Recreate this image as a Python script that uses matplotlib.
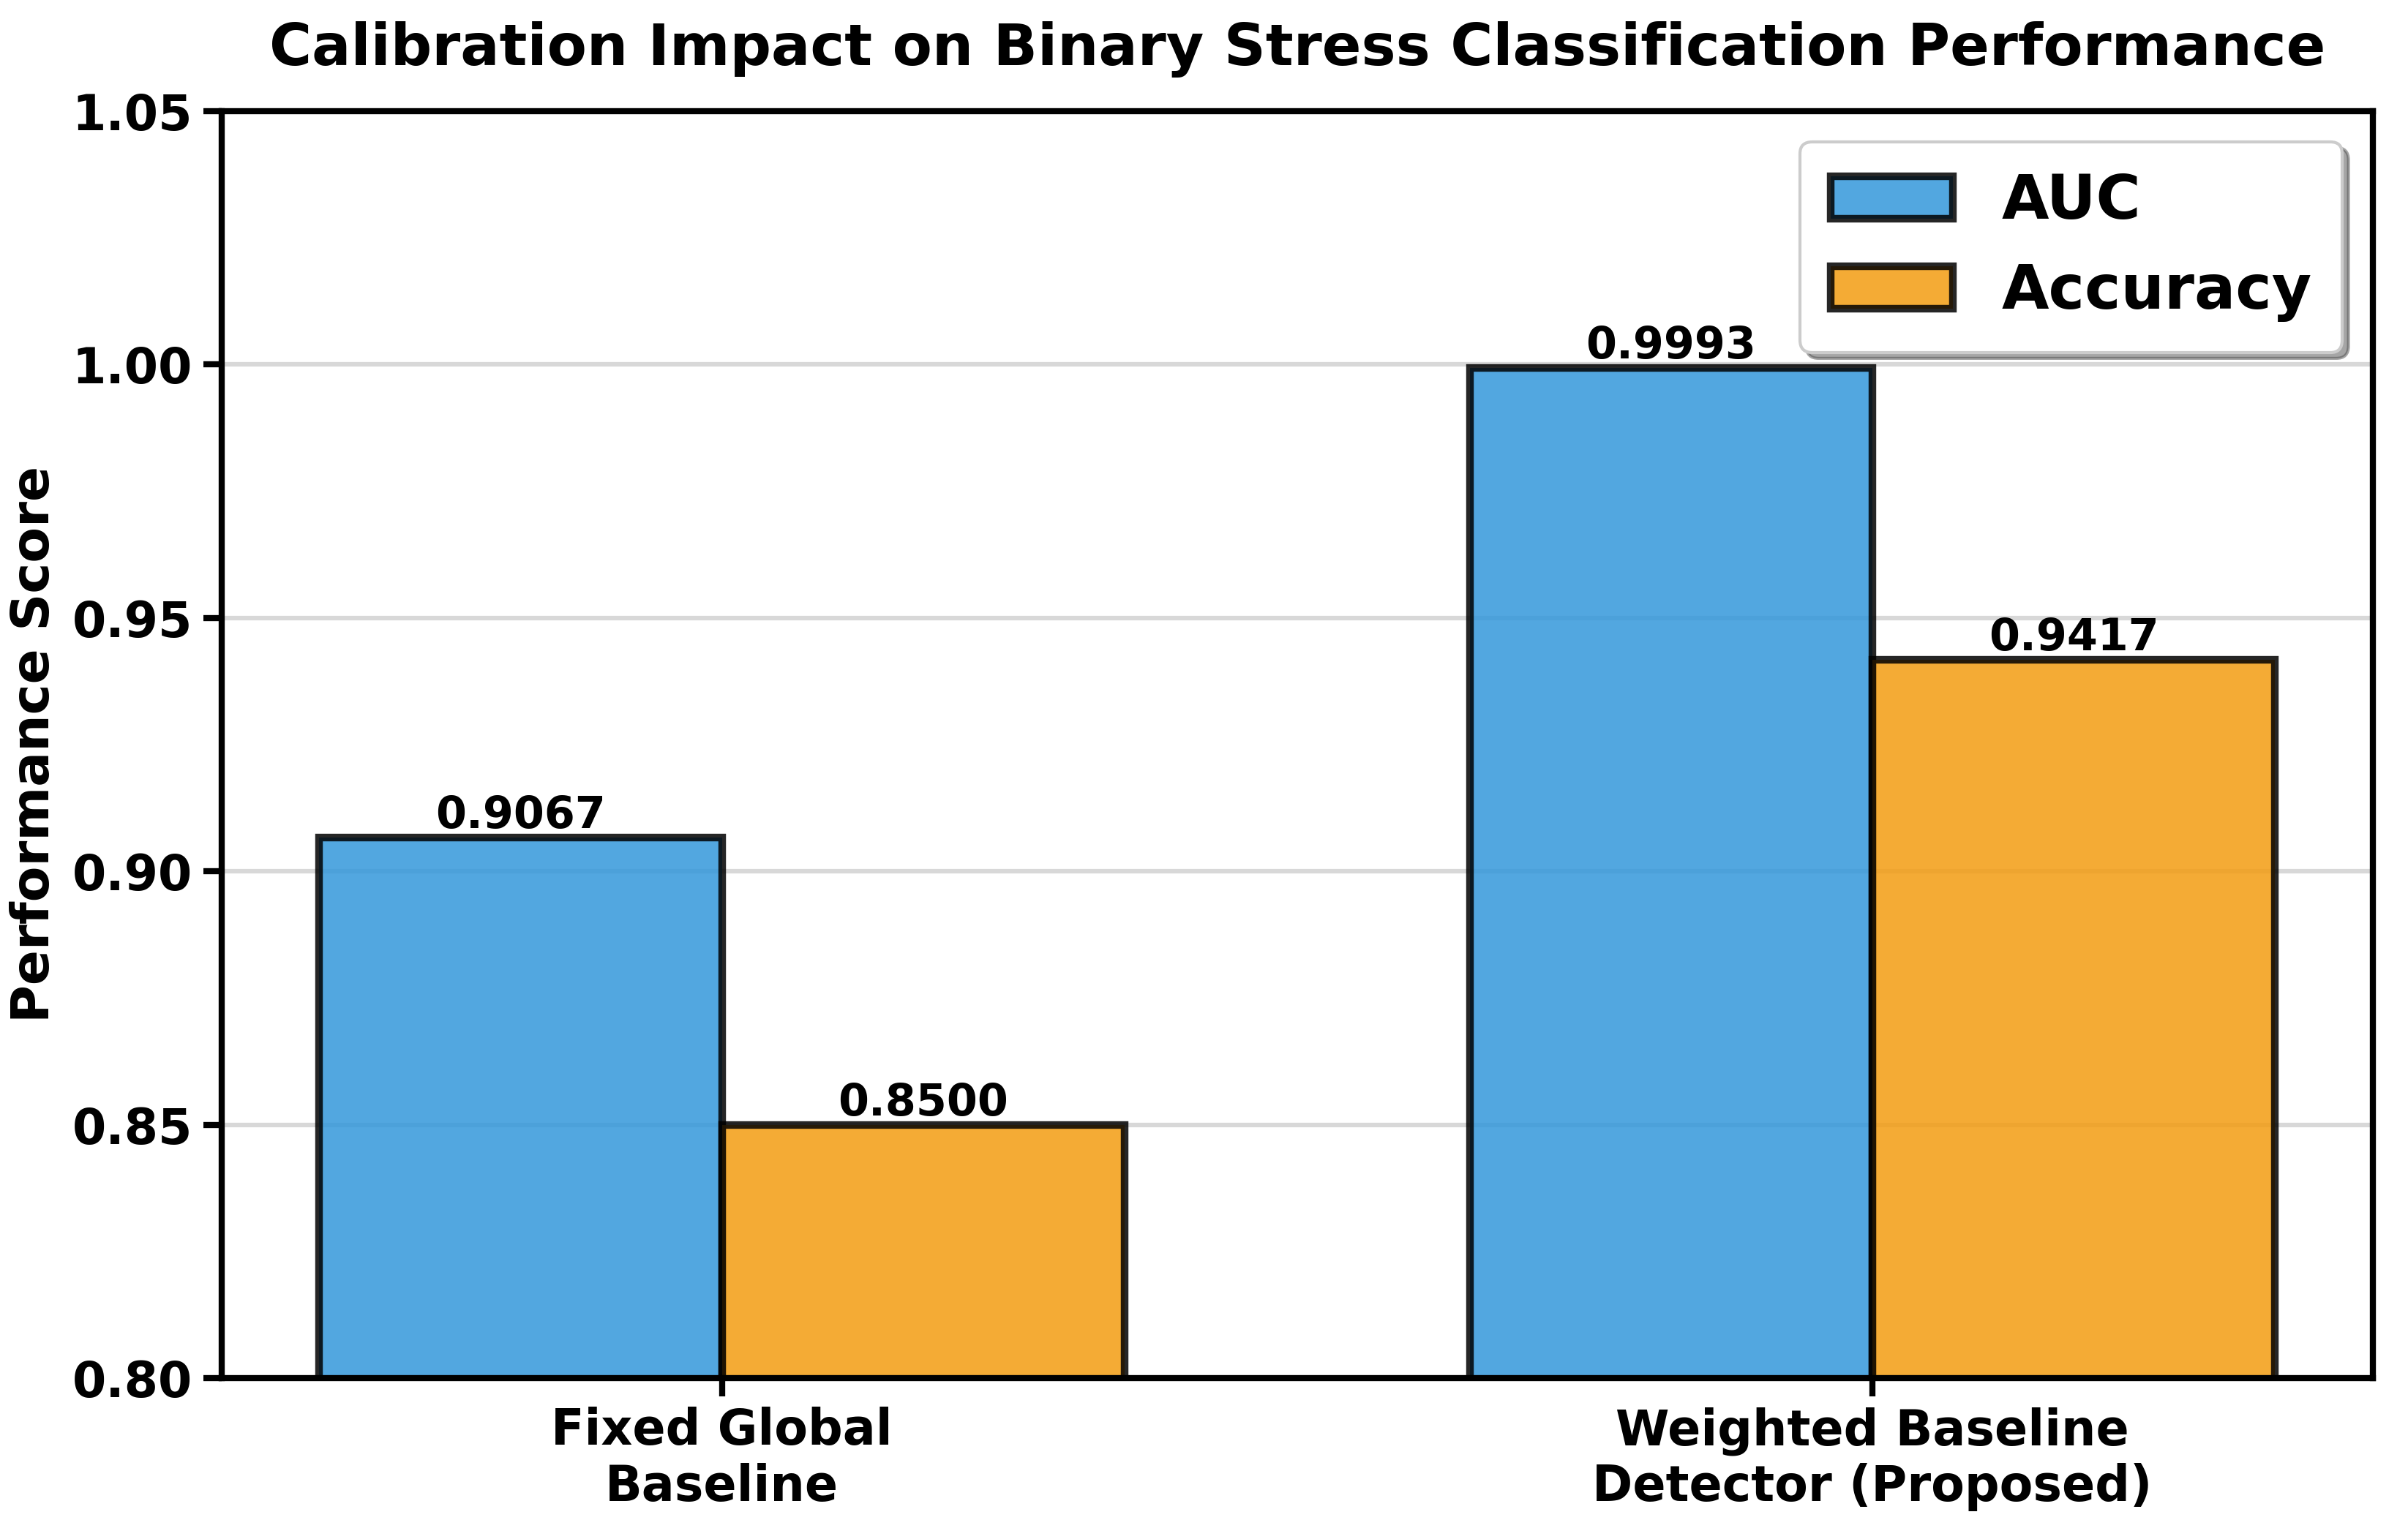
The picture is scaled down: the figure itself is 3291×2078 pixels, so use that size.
import matplotlib.pyplot as plt
import numpy as np

methods = ['Fixed Global\nBaseline', 'Weighted Baseline\nDetector (Proposed)']
auc = [0.9067, 0.9993]
accuracy = [0.8500, 0.9417]

plt.rcParams['font.family'] = 'DejaVu Sans'
plt.rcParams['font.weight'] = 'bold'

fig = plt.figure(figsize=(3291 / 300, 2078 / 300), dpi=300)
ax = fig.add_axes([0.092, 0.0934, 0.8934, 0.8335])

x = np.arange(len(methods))
w = 0.35
b1 = ax.bar(x - w / 2, auc, w, label='AUC', color='#3498db', alpha=0.85,
            edgecolor='black', linewidth=2.5)
b2 = ax.bar(x + w / 2, accuracy, w, label='Accuracy', color='#f39c12', alpha=0.85,
            edgecolor='black', linewidth=2.5)

for bars in (b1, b2):
    for b in bars:
        h = b.get_height()
        ax.text(b.get_x() + b.get_width() / 2, h, f'{h:.4f}', ha='center', va='bottom',
                fontsize=14.5, fontweight='bold')

ax.set_ylim(0.80, 1.05)
ax.set_yticks([0.80, 0.85, 0.90, 0.95, 1.00, 1.05])
ax.set_xticks(x)
ax.set_xticklabels(methods, fontsize=16, fontweight='bold')
ax.tick_params(axis='y', labelsize=16, width=2, length=6)
ax.tick_params(axis='x', width=2, length=6)
for lab in ax.get_yticklabels():
    lab.set_fontweight('bold')
ax.set_ylabel('Performance Score', fontsize=17, fontweight='bold')
ax.set_title('Calibration Impact on Binary Stress Classification Performance',
             fontsize=19, fontweight='bold', pad=15)
ax.grid(axis='y', alpha=0.3, color='gray', linewidth=1.5)
ax.set_axisbelow(True)
for s in ax.spines.values():
    s.set_linewidth(2)

ax.legend(fontsize=20, loc='upper right', frameon=True, fancybox=True, shadow=True,
          framealpha=1, borderpad=0.5)

fig.savefig('out.png', dpi=300)
